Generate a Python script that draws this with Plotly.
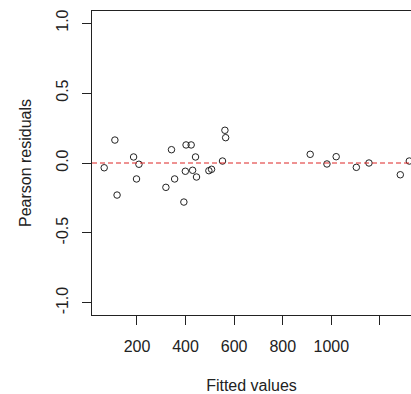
import plotly.graph_objects as go

fitted = [65, 109, 118, 186, 208, 198, 319, 342, 355, 393, 399, 402, 423, 429, 441, 445,
          496, 507, 552, 562, 565, 913, 982, 1020, 1103, 1155, 1284, 1321]
resid = [-0.034, 0.164, -0.229, 0.043, -0.009, -0.114, -0.174, 0.095, -0.114, -0.279, -0.059,
         0.129, 0.129, -0.052, 0.043, -0.100, -0.055, -0.045, 0.014, 0.234, 0.181, 0.062,
         -0.007, 0.045, -0.031, 0.000, -0.084, 0.014]

x_ticks = [200, 400, 600, 800, 1000, 1200]
x_tick_text = ["200", "400", "600", "800", "1000", ""]
y_ticks = [-1.0, -0.5, 0.0, 0.5, 1.0]
y_tick_text = ["-1.0", "-0.5", "0.0", "0.5", "1.0"]

x_range = [14.8, 1328]
y_range = [-1.086, 1.086]

font = dict(family="Liberation Sans, Arial, sans-serif", size=16, color="#222")

fig = go.Figure()
fig.add_trace(go.Scatter(
    x=fitted, y=resid, mode="markers",
    marker=dict(symbol="circle-open", size=6.5, color="#222", line=dict(width=1, color="#222")),
    showlegend=False,
))
fig.add_shape(type="line", xref="paper", yref="y", x0=0, x1=1, y0=0, y1=0,
              line=dict(color="#dd2424", width=1, dash="5px,3px"))

fig.update_layout(
    width=411, height=394,
    margin=dict(l=92, r=0, t=11, b=79, autoexpand=False),
    paper_bgcolor="white", plot_bgcolor="white",
    font=font,
    hovermode=False,
    xaxis=dict(range=x_range, tickvals=x_ticks, ticktext=x_tick_text,
               showgrid=False, zeroline=False, showline=True, mirror=True,
               linecolor="#222", linewidth=1, ticks="outside", ticklen=9,
               tickcolor="#222", tickfont=font, automargin=False, ticklabelstandoff=8,
               title=dict(text="Fitted values", font=font, standoff=25)),
    yaxis=dict(range=y_range, tickvals=y_ticks, ticktext=y_tick_text,
               showgrid=False, zeroline=False, showline=True,
               linecolor="#222", linewidth=1, ticks="outside", ticklen=9,
               tickcolor="#222", tickfont=font, tickangle=-90, automargin=False,
               ticklabelstandoff=8,
               title=dict(text="Pearson residuals", font=font, standoff=17)),
)

fig.write_html(
    "out.html",
    config={"displayModeBar": False},
    post_script="document.body.style.margin='0';document.body.style.overflow='hidden';",
)
